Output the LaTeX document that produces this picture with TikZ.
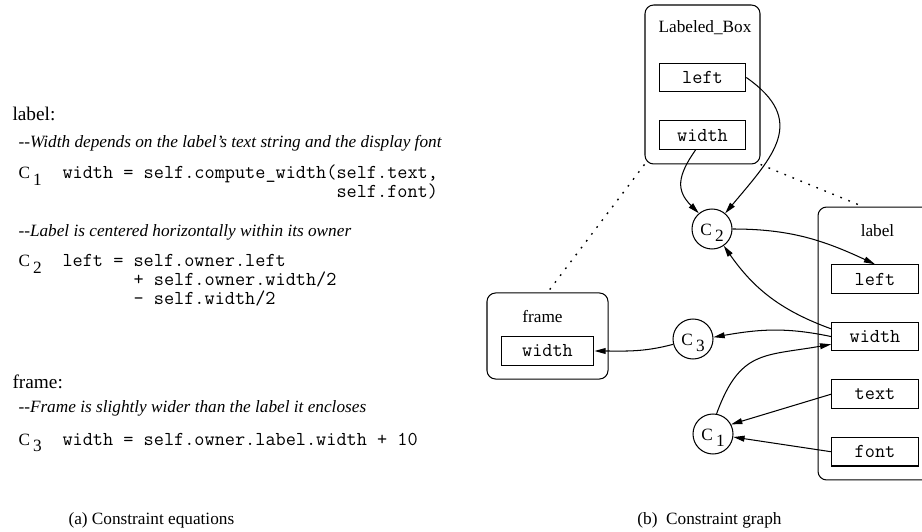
\documentclass[tikz,border=0pt]{standalone}
\usepackage{fontspec}
\setmainfont{Liberation Serif}
\usepackage{tikz}
\usetikzlibrary{positioning,arrows.meta}
\tikzset{x=0.58pt, y=0.58pt, node distance=33.4pt,
  >={Triangle[length=6.5pt,width=3.4pt]},
  owner/.style={draw, rounded corners=5pt},
  slot/.style={draw, minimum width=50.2pt, minimum height=16.5pt, inner sep=0pt, font=\fontsize{11.43}{13}\selectfont\ttfamily},
  cons/.style={draw, circle, minimum size=23.2pt, inner sep=0pt},
  txt/.style={inner sep=0pt, anchor=base west},
  code/.style={txt, font=\fontsize{11.43}{13}\selectfont\ttfamily},
  note/.style={txt, font=\itshape},
  head/.style={txt, font=\fontsize{11.2}{13}\selectfont},
  ownerlink/.style={dash pattern=on 1pt off 4pt, line width=0.8pt}}
\newcommand{\cname}[1]{C\kern1.8pt\raisebox{-3.5pt}{#1}}
\newcommand{\cnode}[1]{\raisebox{-4pt}[0pt][0pt]{\cname{#1}}}

\begin{document}
\begin{tikzpicture}[line width=0.6pt]
  \useasboundingbox (0,0) rectangle (922,531);

  \node[head] (hlabel) at (12,410) {label:};
  \node[note] (n1) at (18,383) {-\kern0pt-Width depends on the label's text string and the display font};
  \node[txt] (k1) at (18,352) {\cname{1}};
  \node[code] (e1a) at (62,352) {width = self.compute\_width(self.text,};
  \node[code] (e1b) at (62,333) {\phantom{width = self.compute\_width(}self.font)};

  \node[note] (n2) at (18,294) {-\kern0pt-Label is centered horizontally within its owner};
  \node[txt] (k2) at (18,264) {\cname{2}};
  \node[code] (e2a) at (62,264) {left = self.owner.left};
  \node[code] (e2b) at (62,245) {\phantom{left = }+ self.owner.width/2};
  \node[code] (e2c) at (62,226) {\phantom{left = }- self.width/2};

  \node[head] (hframe) at (12,143) {frame:};
  \node[note] (n3) at (18,119) {-\kern0pt-Frame is slightly wider than the label it encloses};
  \node[txt] (k3) at (18,86) {\cname{3}};
  \node[code] (e3) at (62,86) {width = self.owner.label.width + 10};

  \node[owner, minimum width=66.7pt, minimum height=92.2pt] (lb) at (702.5,446.5) {};
  \node[txt, anchor=base] (lbname) at (705,498) {Labeled\_Box};
  \node[slot] (lbleft) at (702.5,453.5) {left};
  \node[slot, below of=lbleft] (lbwidth) {width};

  \node[owner, minimum width=66.1pt, minimum height=158.3pt] (lab) at (875,187.5) {};
  \node[txt, anchor=base] (labname) at (877.5,294) {label};
  \node[slot] (lableft) at (875,252) {left};
  \node[slot, below of=lableft] (labwidth) {width};
  \node[slot, below of=labwidth] (labtext) {text};
  \node[slot, below of=labtext] (labfont) {font};

  \node[owner, minimum width=70.2pt, minimum height=49.9pt] (frame) at (547.5,195) {};
  \node[txt, anchor=base] (framename) at (542.5,208) {frame};
  \node[slot, minimum width=53.9pt] (fwidth) at (547.5,180) {width};

  \node[cons] (c2) at (712,302) {\cnode{2}};
  \node[cons] (c3) at (693,192) {\cnode{3}};
  \node[cons] (c1) at (713,97) {\cnode{1}};

  \draw[ownerlink] (lb.south west) -- (frame.north);
  \draw[ownerlink] (lb.south east) -- ([xshift=-7pt]lab.north);

  \draw[->] (lbleft.east) to[out=-35,in=50,looseness=1.4] (c2.50);
  \draw[->] (lbwidth.-115) to[out=-125,in=135,looseness=1.3] (c2.130);
  \draw[->] (c2.east) to[out=0,in=155] (lableft.north);
  \draw[->] (labwidth.170) to[out=160,in=-55] (c2.-55);
  \draw[->] (labwidth.west) to[out=168,in=10] (c3.5);
  \draw[->] (c3.195) to[out=195,in=0] (fwidth.east);
  \draw[->] (c1.80) to[out=70,in=190,looseness=1.3] (labwidth.190);
  \draw[->] (labtext.west) -- (c1.28);
  \draw[->] (labfont.west) -- (c1);

  \node[txt] (capa) at (68,7) {(a) Constraint equations};
  \node[txt, anchor=base] (capb) at (709.5,7) {(b)\ \ Constraint graph};
\end{tikzpicture}
\end{document}
